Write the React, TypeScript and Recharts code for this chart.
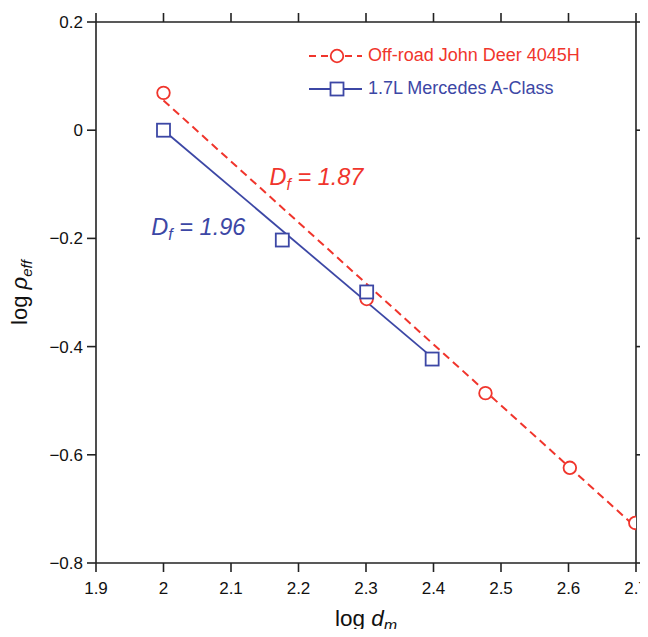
import React from 'react';
import { ScatterChart, Scatter, XAxis, YAxis, Legend, ReferenceDot } from 'recharts';

const RED = '#f0352c';
const BLUE = '#3c47a5';
const AXIS = '#222';

const xTicks = [1.9, 2.0, 2.1, 2.2, 2.3, 2.4, 2.5, 2.6, 2.7];
const yTicks = [-0.8, -0.6, -0.4, -0.2, 0, 0.2];

const deerX = [2.0, 2.301, 2.477, 2.602, 2.699];
const deerY = [0.069, -0.312, -0.486, -0.624, -0.726];
const mercX = [2.0, 2.176, 2.301, 2.398];
const mercY = [0.0, -0.203, -0.299, -0.423];

const deerFitX = [2.0, 2.699];
const deerFitY = [0.055, -0.733];
const mercFitX = [2.0, 2.398];
const mercFitY = [0.0, -0.42];

const deerLabel = { x: 2.157, y: -0.101, text: '1.87' };
const mercLabel = { x: 1.982, y: -0.194, text: '1.96' };

const deerName = 'Off-road John Deer 4045H';
const mercName = '1.7L Mercedes A-Class';

const zip = (xs: number[], ys: number[]) => xs.map((x, i) => ({ x, y: ys[i] }));
const deer = zip(deerX, deerY);
const merc = zip(mercX, mercY);
const deerFit = zip(deerFitX, deerFitY);
const mercFit = zip(mercFitX, mercFitY);

const fmt = (v: number) => {
  const s = Math.abs(v) < 1e-9 ? '0' : String(Math.round(v * 10) / 10);
  return s.replace('-', '\u2212');
};

const font = '"Liberation Sans", Arial, sans-serif';

const Circle = (p: any) => (
  <circle cx={p.cx} cy={p.cy} r={6.3} fill="#fff" stroke={RED} strokeWidth={1.8} />
);
const Square = (p: any) => (
  <rect x={p.cx - 6.5} y={p.cy - 6.5} width={13} height={13} fill="#fff" stroke={BLUE} strokeWidth={1.8} />
);
const None = () => null;

const annot = (color: string, val: string) => (props: any) => {
  const vb = props.viewBox;
  const x = vb.x + vb.width / 2;
  const y = vb.y + vb.height / 2;
  return (
    <text x={x} y={y} fill={color} fontFamily={font} fontSize={23.5} fontStyle="italic">
      <tspan>D</tspan>
      <tspan fontSize={16} dy={5}>f</tspan>
      <tspan dy={-5}>{' = ' + val}</tspan>
    </text>
  );
};

const LegendContent = () => (
  <div style={{ fontFamily: font, fontSize: 18 }}>
    {[
      { name: deerName, color: RED, kind: 'c' },
      { name: mercName, color: BLUE, kind: 's' },
    ].map((it) => (
      <div key={it.name} style={{ display: 'flex', alignItems: 'center', height: 33, color: it.color, whiteSpace: 'nowrap' }}>
        <svg width={53} height={16} style={{ marginRight: 6 }}>
          <line x1={0} y1={8} x2={53} y2={8} stroke={it.color} strokeWidth={2} strokeDasharray={it.kind === 'c' ? '7 5' : undefined} />
          {it.kind === 'c' ? (
            <circle cx={28} cy={8} r={6.3} fill="#fff" stroke={it.color} strokeWidth={1.8} />
          ) : (
            <rect x={21.5} y={1.5} width={13} height={13} fill="#fff" stroke={it.color} strokeWidth={1.8} />
          )}
        </svg>
        <span>{it.name}</span>
      </div>
    ))}
  </div>
);

const XTitle = (props: any) => {
  const vb = props.viewBox;
  return (
    <text x={vb.x + vb.width / 2} y={vb.y + 63} textAnchor="middle" fontFamily={font} fontSize={22.5} fill="#111">
      <tspan>log </tspan>
      <tspan fontStyle="italic">d</tspan>
      <tspan fontStyle="italic" fontSize={16} dy={5}>m</tspan>
    </text>
  );
};

const YTitle = (props: any) => {
  const vb = props.viewBox;
  const cx = vb.x + 27;
  const cy = vb.y + vb.height / 2;
  return (
    <text x={cx} y={cy} textAnchor="middle" transform={`rotate(-90 ${cx} ${cy})`} fontFamily={font} fontSize={22} fill="#111">
      <tspan>log </tspan>
      <tspan fontStyle="italic">{'\u03c1'}</tspan>
      <tspan fontStyle="italic" fontSize={15} dy={5}>eff</tspan>
    </text>
  );
};

const tickStyle = { fontFamily: font, fontSize: 17, fill: '#111' };

function XTitleWrap(props: any) {
  return <XTitle {...props} />;
}
function YTitleWrap(props: any) {
  return <YTitle {...props} />;
}

export default function App() {
  return (
    <div style={{ margin: -8, width: 648, height: 637 }}>
      <ScatterChart width={648} height={637} margin={{ top: 12, right: 0, bottom: 0, left: 0 }}>
        <XAxis
          dataKey="x"
          type="number"
          domain={[1.9, 2.7]}
          ticks={xTicks}
          tickFormatter={(v: number) => fmt(v)}
          height={74}
          tickSize={9}
          tickMargin={10}
          tick={tickStyle}
          axisLine={{ stroke: AXIS, strokeWidth: 1.6 }}
          tickLine={{ stroke: AXIS, strokeWidth: 1.6 }}
          allowDataOverflow
          interval={0}
          label={<XTitleWrap />}
        />
        <XAxis
          xAxisId="top"
          orientation="top"
          dataKey="x"
          type="number"
          domain={[1.9, 2.7]}
          ticks={xTicks}
          tickFormatter={() => ''}
          height={10}
          tickSize={9}
          axisLine={{ stroke: AXIS, strokeWidth: 1.6 }}
          tickLine={{ stroke: AXIS, strokeWidth: 1.6 }}
          allowDataOverflow
          interval={0}
        />
        <YAxis
          dataKey="y"
          type="number"
          domain={[-0.8, 0.2]}
          ticks={yTicks}
          tickFormatter={(v: number) => fmt(v)}
          width={96}
          tickSize={9}
          tickMargin={4}
          tick={tickStyle}
          axisLine={{ stroke: AXIS, strokeWidth: 1.6 }}
          tickLine={{ stroke: AXIS, strokeWidth: 1.6 }}
          allowDataOverflow
          interval={0}
          label={<YTitleWrap />}
        />
        <YAxis
          yAxisId="right"
          orientation="right"
          dataKey="y"
          type="number"
          domain={[-0.8, 0.2]}
          ticks={yTicks}
          tickFormatter={() => ''}
          width={12}
          tickSize={9}
          axisLine={{ stroke: AXIS, strokeWidth: 1.6 }}
          tickLine={{ stroke: AXIS, strokeWidth: 1.6 }}
          allowDataOverflow
          interval={0}
        />
        <Scatter data={deerFit} shape={None} line={{ stroke: RED, strokeWidth: 2, strokeDasharray: '8 5' }} isAnimationActive={false} />
        <Scatter data={mercFit} shape={None} line={{ stroke: BLUE, strokeWidth: 1.8 }} isAnimationActive={false} />
        <Scatter data={deer} shape={Circle} isAnimationActive={false} />
        <Scatter data={merc} shape={Square} isAnimationActive={false} />
        <ReferenceDot x={deerLabel.x} y={deerLabel.y} r={1} fill="none" stroke="none" label={annot(RED, deerLabel.text)} />
        <ReferenceDot x={mercLabel.x} y={mercLabel.y} r={1} fill="none" stroke="none" label={annot(BLUE, mercLabel.text)} />
        <Legend
          layout="vertical"
          align="center"
          verticalAlign="middle"
          content={<LegendContent />}
          wrapperStyle={{ position: 'absolute', top: 39, left: 309, width: 'auto', height: 'auto' }}
        />
      </ScatterChart>
    </div>
  );
}
